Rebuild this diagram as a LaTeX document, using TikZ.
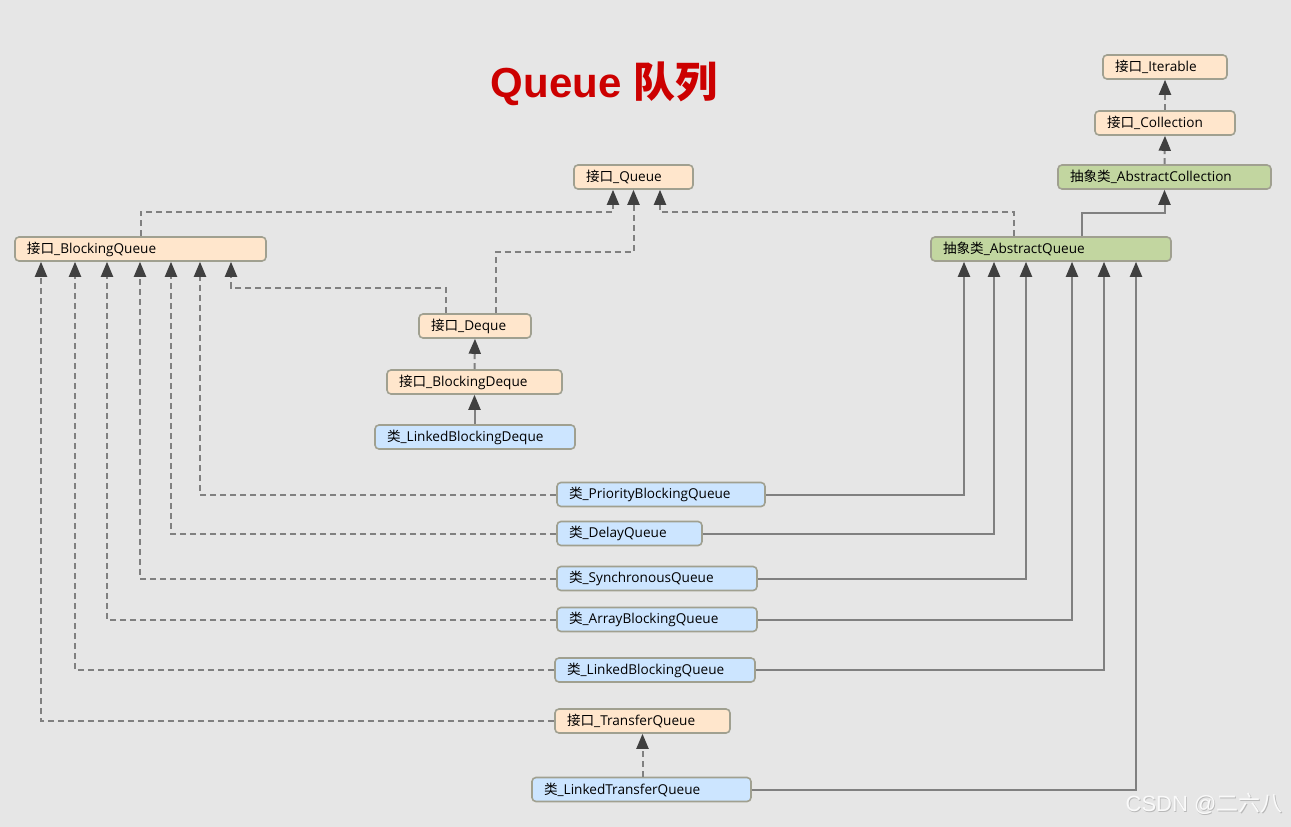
\documentclass[tikz,border=0pt]{standalone}
\usepackage{fontspec}
\setmainfont{Open Sans}
\newfontfamily\cjk{Noto Sans CJK SC}
\newfontfamily\titlelat{Liberation Sans}
\usetikzlibrary{arrows.meta,calc}
\definecolor{bgc}{HTML}{E6E6E6}
\definecolor{ifill}{HTML}{FFE6CC}
\definecolor{cfill}{HTML}{CCE5FF}
\definecolor{afill}{HTML}{C2D6A0}
\definecolor{bordc}{HTML}{A0A090}
\definecolor{linec}{HTML}{808080}
\definecolor{tipc}{HTML}{404040}
\definecolor{titlered}{HTML}{CC0000}
\newcommand\cn[1]{{\cjk #1}}
\tikzset{
  box/.style={draw=bordc, line width=1.6pt, rounded corners=4pt, minimum height=24pt,
    inner xsep=12pt, inner ysep=0pt, align=left, font=\fontsize{13.6}{15}\selectfont, text=black},
  iface/.style={box, fill=ifill},
  cls/.style={box, fill=cfill},
  abst/.style={box, fill=afill},
  conn/.style={draw=linec, line width=2pt,
    -{Triangle[length=15pt,width=12pt,color=tipc,fill=tipc]}},
  dep/.style={conn, dash pattern=on 6pt off 4pt},
  inh/.style={conn},
}
\begin{document}
\begin{tikzpicture}[x=1pt,y=-1pt]
\fill[bgc] (0,0) rectangle (1291,827);
\useasboundingbox (0,0) rectangle (1291,827);

% title
\node[text=titlered, inner sep=0pt] (title) at (604,84)
  {\fontsize{42}{46}\selectfont\titlelat\bfseries Queue {\cjk\bfseries 队列}};

% nodes
\node[iface, text width=100] (it)  at (1165,67)   {\cn{接口}\_Iterable};
\node[iface, text width=116] (col) at (1165,123)  {\cn{接口}\_Collection};
\node[abst,  text width=189] (ac)  at (1164.5,177) {\cn{抽象类}\_AbstractCollection};
\node[iface, text width=95]  (q)   at (633.5,177) {\cn{接口}\_Queue};
\node[iface, text width=227] (bq)  at (140.5,249) {\cn{接口}\_BlockingQueue};
\node[abst,  text width=216] (aq)  at (1051,249)  {\cn{抽象类}\_AbstractQueue};
\node[iface, text width=88]  (dq)  at (475,326)   {\cn{接口}\_Deque};
\node[iface, text width=151] (bdq) at (474.5,382) {\cn{接口}\_BlockingDeque};
\node[cls,   text width=176] (lbd) at (475,437)   {\cn{类}\_LinkedBlockingDeque};
\node[cls,   text width=184] (pbq) at (661,494.5) {\cn{类}\_PriorityBlockingQueue};
\node[cls,   text width=121] (dlq) at (629.5,533.5) {\cn{类}\_DelayQueue};
\node[cls,   text width=176] (sq)  at (657,578.5) {\cn{类}\_SynchronousQueue};
\node[cls,   text width=176] (abq) at (657,619.5) {\cn{类}\_ArrayBlockingQueue};
\node[cls,   text width=176] (lbq) at (655,670)   {\cn{类}\_LinkedBlockingQueue};
\node[iface, text width=151] (tq)  at (642.5,721) {\cn{接口}\_TransferQueue};
\node[cls,   text width=195] (ltq) at (641.5,789.5) {\cn{类}\_LinkedTransferQueue};

% watermark
\node[text=gray!55, inner sep=0pt] (wmshadow) at (1204.8,804.8)
  {\fontsize{22}{24}\selectfont\titlelat CSDN @\cn{二六八}};
\node[text=white!96!gray, inner sep=0pt] (wm) at (1204,804)
  {\fontsize{22}{24}\selectfont\titlelat CSDN @\cn{二六八}};

% top right chain
\draw[dep] (col.north) -- (it.south);
\draw[dep] (ac.north) -- (col.south);
\draw[inh] ([xshift=31pt]aq.north) |- ($(ac.south)+(0,23)$) -- (ac.south);

% to Queue
\draw[dep] (bq.north) |- ($(q.south)+(-20.5,22)$) -- ([xshift=-20.5pt]q.south);
\draw[dep] ([xshift=21pt]dq.north) |- ($(q.south)+(0,62)$) -- (q.south);
\draw[dep] ([xshift=-37pt]aq.north) |- ($(q.south)+(26.5,22)$) -- ([xshift=26.5pt]q.south);

% Deque chain
\draw[dep] ([xshift=-29pt]dq.north) |- ($(bq.south)+(90.5,26)$) -- ([xshift=90.5pt]bq.south);
\draw[dep] (bdq.north) -- (dq.south);
\draw[inh] (lbd.north -| bdq.south) -- (bdq.south);

% classes to BlockingQueue (dashed) and AbstractQueue (solid)
\draw[dep] (pbq.west) -| ([xshift=59.5pt]bq.south);
\draw[inh] (pbq.east) -| ([xshift=-87pt]aq.south);
\draw[dep] (dlq.west) -| ([xshift=30.5pt]bq.south);
\draw[inh] (dlq.east) -| ([xshift=-57pt]aq.south);
\draw[dep] (sq.west) -| ([xshift=-0.5pt]bq.south);
\draw[inh] (sq.east) -| ([xshift=-25pt]aq.south);
\draw[dep] (abq.west) -| ([xshift=-33.5pt]bq.south);
\draw[inh] (abq.east) -| ([xshift=21pt]aq.south);
\draw[dep] (lbq.west) -| ([xshift=-65.5pt]bq.south);
\draw[inh] (lbq.east) -| ([xshift=53pt]aq.south);
\draw[dep] (tq.west) -| ([xshift=-99.5pt]bq.south);
\draw[dep] (ltq.north -| tq.south) -- (tq.south);
\draw[inh] (ltq.east) -| ([xshift=85pt]aq.south);
\end{tikzpicture}
\end{document}
